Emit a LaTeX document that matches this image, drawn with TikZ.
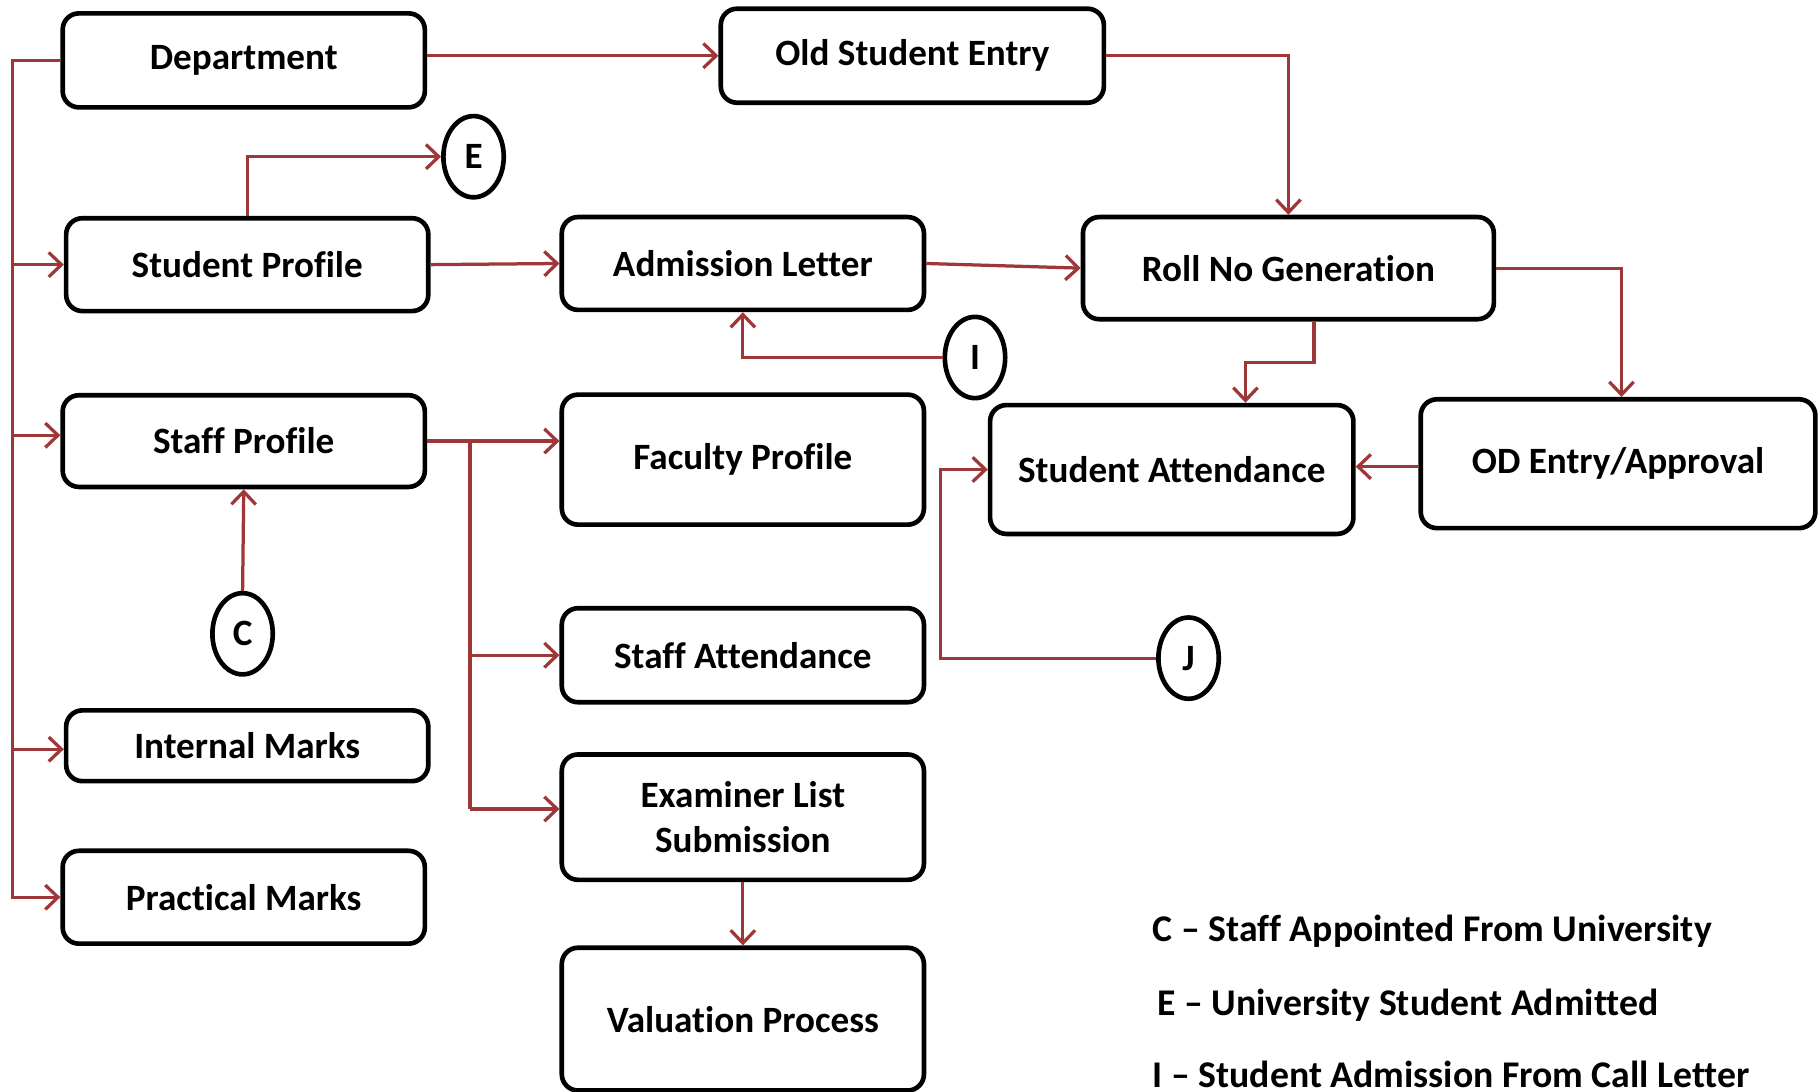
\documentclass[tikz,border=0pt]{standalone}
\usepackage{fontspec}
\setmainfont[Ligatures=NoCommon]{Carlito}
\usetikzlibrary{arrows.meta,shapes.geometric}
\definecolor{linkred}{RGB}{158,56,56}
\tikzset{
  box/.style={draw, line width=4pt, rounded corners=14pt, align=center, inner sep=0pt,
    font=\fontsize{32}{39}\selectfont\bfseries},
  letter/.style={draw, ellipse, line width=4pt, inner sep=0pt, minimum width=52pt, minimum height=70pt,
    font=\fontsize{32}{36}\selectfont\bfseries},
  legend/.style={anchor=west, inner sep=0pt, font=\fontsize{32.5}{36}\selectfont\bfseries},
  conn/.style={draw=linkred, line width=2.8pt},
  arr/.style={conn, -{Straight Barb[length=11pt,width=21pt,line width=2.8pt]}}
}
\begin{document}
\begin{tikzpicture}[x=1pt,y=-1pt]
\useasboundingbox (0,0) rectangle (1568,940);

% boxes
\node[box, minimum width=312pt, minimum height=81pt] (dept) at (210,52) {Department};
\node[box, minimum width=330pt, minimum height=81pt] (old) at (786,48) {Old Student Entry};
\node[box, minimum width=312pt, minimum height=80pt] (sp) at (213,228) {Student Profile};
\node[box, minimum width=312pt, minimum height=80pt] (al) at (640,227) {Admission Letter};
\node[box, minimum width=354pt, minimum height=88pt] (roll) at (1110,231) {Roll No Generation};
\node[box, minimum width=312pt, minimum height=79pt] (stp) at (210,380) {Staff Profile};
\node[box, minimum width=312pt, minimum height=112pt] (fp) at (640,396) {Faculty Profile};
\node[box, minimum width=313pt, minimum height=111pt] (sa) at (1009.5,404.5) {Student Attendance};
\node[box, minimum width=340pt, minimum height=111pt] (od) at (1394,399.5) {OD Entry/Approval};
\node[box, minimum width=312pt, minimum height=81pt] (sta) at (640,564.5) {Staff Attendance};
\node[box, minimum width=312pt, minimum height=108pt] (ex) at (640,704) {Examiner List\\Submission};
\node[box, minimum width=312pt, minimum height=123pt] (val) at (640,878) {Valuation Process};
\node[box, minimum width=312pt, minimum height=61pt] (im) at (213,642.5) {Internal Marks};
\node[box, minimum width=312pt, minimum height=80pt] (pm) at (210,773) {Practical Marks};

% letter circles
\node[letter] (E) at (408,135) {E};
\node[letter] (I) at (840,308) {I};
\node[letter] (C) at (209,546) {C};
\node[letter] (J) at (1024,567) {J};

% legend
\node[legend] (lc) at (993,802) {C – Staff Appointed From University};
\node[legend] (le) at (997,866) {E – University Student Admitted};
\node[legend] (li) at (993,926) {I – Student Admission From Call Letter};

% left bus
\coordinate (bus) at ([xshift=-41pt]pm.west);
\draw[arr] (dept.west) -| (bus) -- (pm.west);
\draw[arr] (bus |- sp.west) -- (sp.west);
\draw[arr] ([yshift=5pt]bus |- stp.west) -- ([yshift=5pt]stp.west);
\draw[arr] ([yshift=-3pt]bus |- im.west) -- ([yshift=-3pt]im.west);

% top row
\draw[arr] (dept.east |- old.west) -- (old.west);
\draw[arr] (old.east) -| (roll.north);

% student profile
\draw[arr] (sp.north) |- (E.west);
\draw[arr] (sp.east) -- (al.west);
\draw[arr] (al.east) -- (roll.west);
\draw[arr] (I.west) -| (al.south);

% roll no
\draw[arr] ([xshift=22pt]roll.south) -- ++(0,35) -| ([xshift=63.5pt]sa.north);
\draw[arr] (roll.east) -| ([xshift=3pt]od.north);
\draw[arr] ([yshift=-2.5pt]od.west) -- ([yshift=-2.5pt]od.west -| sa.east);
\draw[arr] (J.west) -| ([xshift=-41pt]sa.west) -- (sa.west);

% staff profile
\coordinate (branch) at ([xshift=37pt]stp.east);
\draw[arr] (stp.east) -- (stp.east -| fp.west);
\draw[conn] (branch) -- ([yshift=7pt]branch |- ex.west);
\draw[arr] (branch |- sta.west) -- (sta.west);
\draw[arr] ([yshift=7pt]branch |- ex.west) -- ([yshift=7pt]ex.west);
\draw[arr] (C.north) -- (stp.south);
\draw[arr] (ex.south) -- (val.north);
\end{tikzpicture}
\end{document}
